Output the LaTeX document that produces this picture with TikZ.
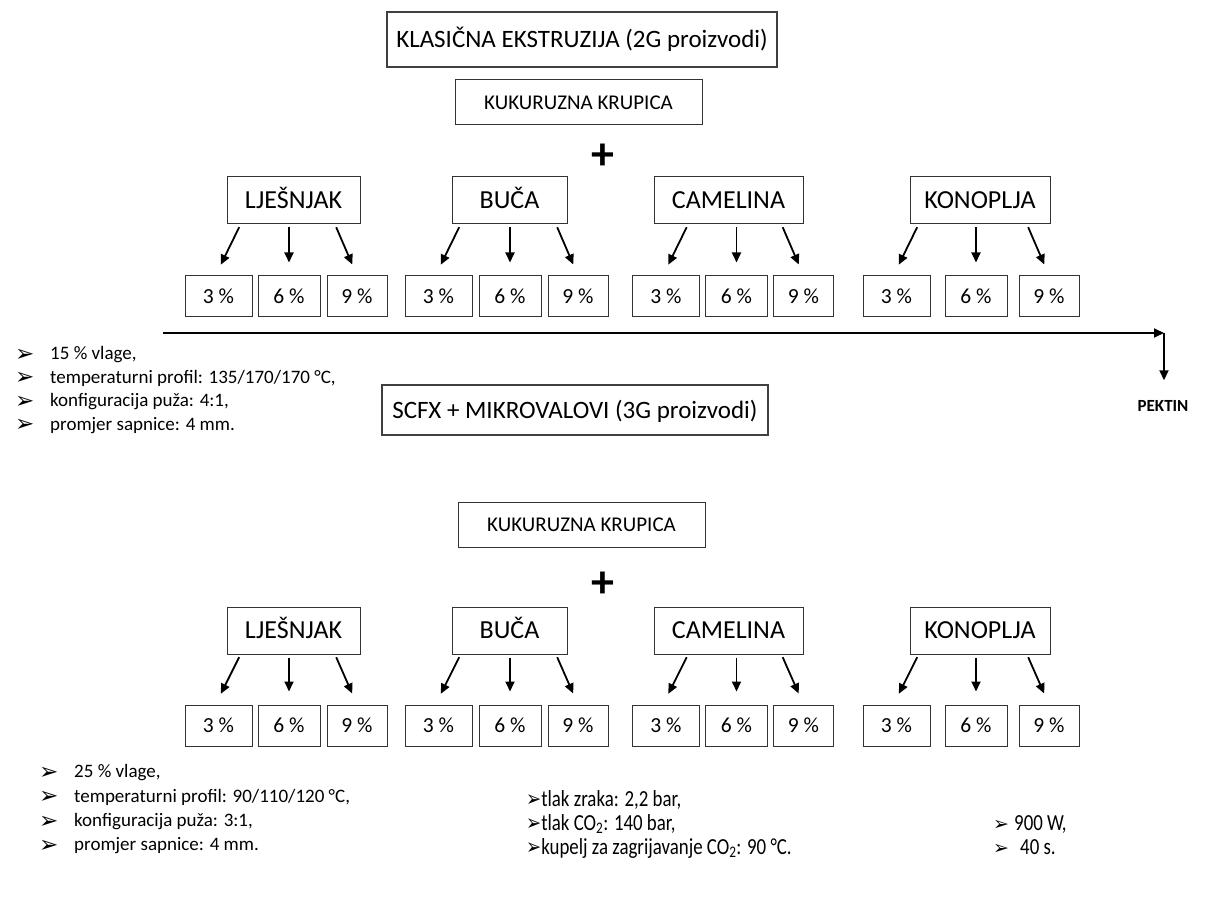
\documentclass[tikz,border=0pt]{standalone}
\usepackage{fontspec}
\setmainfont{Carlito}
\newfontfamily\symfont{DejaVu Sans}
\usetikzlibrary{arrows.meta, positioning}

\begin{document}
\begin{tikzpicture}[x=1pt, y=-1pt,
  ttl/.style={draw=black!75, line width=1.2pt, inner sep=0pt, text height=21pt, text depth=5pt, font=\fontsize{25}{28}\selectfont},
  box/.style={draw=black!80, line width=1pt, inner sep=0pt},
  kuk/.style={box, minimum height=45pt, text height=15pt, text depth=1.5pt, font=\fontsize{21}{24}\selectfont},
  grp/.style={box, minimum height=47pt, text height=18pt, text depth=2pt, font=\fontsize{26}{29}\selectfont},
  pct/.style={box, minimum height=41pt, text height=15pt, text depth=1.4pt, font=\fontsize{21.5}{24}\selectfont},
  plus/.style={inner sep=0pt, font=\fontsize{46}{46}\selectfont\bfseries},
  arr/.style={-{Triangle[length=10pt,width=9pt]}, line width=1.8pt},
  txt/.style={anchor=west, inner sep=0pt, font=\fontsize{19}{23}\selectfont, text height=13pt, text depth=4pt},
  bul/.style={anchor=west, inner sep=0pt, font={\symfont\fontsize{23}{26}\selectfont}},
  bulm/.style={anchor=west, inner sep=0pt, font={\symfont\fontsize{19}{22}\selectfont}},
  cnd/.style={anchor=west, inner sep=0pt, font=\fontsize{23}{26}\selectfont, text height=15pt, text depth=5pt}]
  \fill[white] (0,0) rectangle (1221,909);
  \useasboundingbox (0,0) rectangle (1221,909);

  % naslovi i krupica
  \node[ttl, minimum width=390pt, minimum height=55pt] (ttla) at (582,39.5) {KLASIČNA EKSTRUZIJA (2G proizvodi)};
  \node[kuk, minimum width=247pt] (kuka) at (578.5,102.5) {KUKURUZNA KRUPICA};
  \node[plus] (plusa) at (603,157) {+};
  \node[ttl, minimum width=386pt, minimum height=50pt] (ttlb) at (575,410) {SCFX + MIKROVALOVI (3G proizvodi)};
  \node[kuk, minimum width=247pt] (kukb) at (581.5,524.5) {KUKURUZNA KRUPICA};
  \node[plus] (plusb) at (603,585) {+};

  % dodaci i udjeli
  \foreach \r/\yg/\yp in {a/200.5/296.5, b/630.5/725.5} {
    \foreach \g/\x/\w/\lab in {lj/293.5/133/LJEŠNJAK, bu/509.5/115/BUČA, ca/728.5/149/CAMELINA, ko/980/140/KONOPLJA}
      \node[grp, minimum width=\w] (\r\g) at (\x,\yg) {\lab};
    \foreach \g/\xa/\xb/\xc in {lj/218.5/289/357, bu/438.5/510/578, ca/666/736.5/803.5, ko/896.5/976/1049} {
      \node[pct, minimum width=67] (\r\g1) at (\xa,\yp) {3 \%};
      \node[pct, minimum width=62] (\r\g2) at (\xb,\yp) {6 \%};
      \node[pct, minimum width=60] (\r\g3) at (\xc,\yp) {9 \%};
      \draw[arr, shorten <=3pt, shorten >=12pt] ([xshift=22pt]\r\g1.north |- \r\g.south) -- ([xshift=-3pt]\r\g1.north);
      \draw[arr, shorten <=3pt, shorten >=13pt] (\r\g2.north |- \r\g.south) -- (\r\g2.north);
      \draw[arr, shorten <=3pt, shorten >=12pt] ([xshift=-22pt]\r\g3.north |- \r\g.south) -- (\r\g3.north);
    }
  }

  % vremenska os i pektin
  \node[inner sep=0pt, font=\bfseries\fontsize{17}{20}\selectfont] (pektin) at (1163,406) {PEKTIN};
  \coordinate (os) at (163,333);
  \coordinate (okret) at (1164,333);
  \draw[arr] (os) -- (okret);
  \draw[arr, shorten >=20pt] (okret) -- (okret |- pektin.north);

  % uvjeti ekstruzije
  \foreach \t [count=\i] in {{15 \% vlage,}, {temperaturni profil: 135/170/170 °C,}, {konfiguracija puža: 4:1,}, {promjer sapnice: 4 mm.}} {
    \node[bul] (ua\i) at (15,{331.5+23.5*\i}) {➢};
    \node[txt] (ta\i) at (50,{331.5+23.5*\i}) {\t};
  }
  \foreach \t [count=\i] in {{25 \% vlage,}, {temperaturni profil: 90/110/120 °C,}, {konfiguracija puža: 3:1,}, {promjer sapnice: 4 mm.}} {
    \node[bul] (ub\i) at (39,{749+24.3*\i}) {➢};
    \node[txt] (tb\i) at (74,{749+24.3*\i}) {\t};
  }
  \foreach \t [count=\i] in {{tlak zraka: 2,2 bar,}, {tlak CO\textsubscript{2}: 140 bar,}, {kupelj za zagrijavanje CO\textsubscript{2}: 90 °C.}}
    \node[cnd] (sc\i) at (526,{777+24*\i}) {\scalebox{0.82}[1]{{\symfont\fontsize{22}{24}\selectfont ➢}\t}};
  \node[bulm] (mw1) at (993,825) {➢};
  \node[cnd] (mt1) at (1014,825) {\scalebox{0.82}[1]{900 W,}};
  \node[bulm] (mw2) at (993,849) {➢};
  \node[cnd] (mt2) at (1020,849) {\scalebox{0.82}[1]{40 s.}};
\end{tikzpicture}
\end{document}
